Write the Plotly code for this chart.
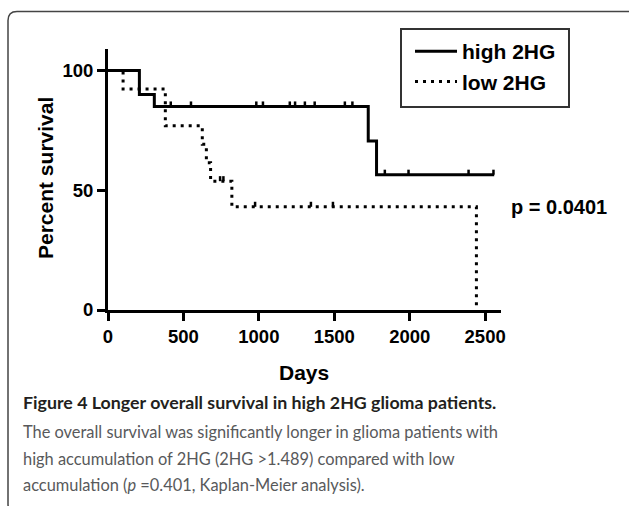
import plotly.graph_objects as go

# ---------------- data ----------------
high_days = [0, 208, 307, 1725, 1780, 2560]
high_pct = [100, 90, 85, 70.6, 56.5, 56.5]
high_cens_days = [416, 550, 983, 1027, 1205, 1240, 1305, 1370, 1570, 1620,
                  1835, 1992, 2390, 2555]
high_cens_pct = [85, 85, 85, 85, 85, 85, 85, 85, 85, 85,
                 56.5, 56.5, 56.5, 56.5]

low_days = [0, 100, 380, 625, 652, 680, 821, 2442]
low_pct = [100, 92.3, 76.9, 69.2, 61.5, 53.8, 43.1, 0]
low_cens_days = [743, 765, 975, 1345, 1491]
low_cens_pct = [53.8, 53.8, 43.1, 43.1, 43.1]

x_ticks = [0, 500, 1000, 1500, 2000, 2500]
y_ticks = [0, 50, 100]

series_names = ["high 2HG", "low 2HG"]
p_text = "p = 0.0401"
caption_title = "Figure 4 Longer overall survival in high 2HG glioma patients."
caption_lines = [
    "The overall survival was significantly longer in glioma patients with",
    "high accumulation of 2HG (2HG >1.489) compared with low",
    "accumulation (<i>p</i> =0.401, Kaplan-Meier analysis).",
]

# ---------------- geometry ----------------
W, H = 629, 506
L, R, T, B = 108, 128, 49, 196
PW, PH = W - L - R, H - T - B
BASE = H - B


def px(x):
    return (x - L) / PW


def py(y):
    return (BASE - y) / PH


ARIAL = "Liberation Sans, Arial, sans-serif"
CAP = "Lato, sans-serif"
TICK = 2.1  # censor tick length in % units

fig = go.Figure()

fig.add_trace(go.Scatter(
    x=high_days, y=high_pct, name=series_names[0], mode="lines",
    line=dict(color="black", width=3, shape="hv"),
))
fig.add_trace(go.Scatter(
    x=low_days, y=low_pct, name=series_names[1], mode="lines",
    line=dict(color="black", width=3, shape="hv", dash="3px,5px"),
))
for cx, cy in ((high_cens_days, high_cens_pct), (low_cens_days, low_cens_pct)):
    fig.add_trace(go.Scatter(
        x=cx, y=cy, mode="markers", showlegend=False, hoverinfo="skip",
        marker=dict(size=1, color="rgba(0,0,0,0)"),
        error_y=dict(type="data", symmetric=False, array=[TICK] * len(cx),
                     arrayminus=[0] * len(cx), width=0, thickness=2.5,
                     color="black"),
    ))

# rounded outer frame
fl, ft, fr, fb, rr = 8, 11.5, 637, 513, 9
path = (
    f"M {px(fl + rr)} {py(ft)} L {px(fr - rr)} {py(ft)} "
    f"Q {px(fr)} {py(ft)} {px(fr)} {py(ft + rr)} L {px(fr)} {py(fb - rr)} "
    f"Q {px(fr)} {py(fb)} {px(fr - rr)} {py(fb)} L {px(fl + rr)} {py(fb)} "
    f"Q {px(fl)} {py(fb)} {px(fl)} {py(fb - rr)} L {px(fl)} {py(ft + rr)} "
    f"Q {px(fl)} {py(ft)} {px(fl + rr)} {py(ft)} Z"
)

annotations = [
    dict(text="Percent survival", x=px(45), y=py(178), textangle=-90,
         font=dict(family=ARIAL, size=21, color="black", weight="bold")),
    dict(text="Days", x=px(304), y=py(372),
         font=dict(family=ARIAL, size=21, color="black", weight="bold")),
    dict(text=p_text, x=px(509), y=py(207), xanchor="left",
         font=dict(family=ARIAL, size=20, color="black", weight="bold")),
    dict(text=caption_title, x=px(21), y=py(402), xanchor="left",
         font=dict(family=CAP, size=17.8, color="#231f20", weight="bold")),
]
for i, line in enumerate(caption_lines):
    annotations.append(dict(text=line, x=px(21), y=py([431, 458, 485][i]),
                            xanchor="left",
                            font=dict(family=CAP, size=16.4, color="#58595b")))
for a in annotations:
    a.update(xref="paper", yref="paper", showarrow=False)
    a.setdefault("xanchor", "center")
    a.setdefault("yanchor", "middle")

axis_common = dict(
    showline=True, linewidth=3, linecolor="black", ticks="outside",
    ticklen=8, tickwidth=3, tickcolor="black", showgrid=False, zeroline=False,
    tickfont=dict(family=ARIAL, size=18.5, color="black", weight="bold"),
    fixedrange=True,
)

fig.update_layout(
    width=W, height=H,
    margin=dict(l=L, r=R, t=T, b=B, autoexpand=False),
    paper_bgcolor="white", plot_bgcolor="white",
    xaxis=dict(range=[0, 2605], tickvals=x_ticks, **axis_common),
    yaxis=dict(range=[0, 109], tickvals=y_ticks, **axis_common),
    showlegend=True,
    legend=dict(x=px(410), y=py(31), xanchor="left", yanchor="top",
                borderwidth=0, bgcolor="rgba(0,0,0,0)",
                font=dict(family=ARIAL, size=21, color="black", weight="bold"),
                itemwidth=42, tracegroupgap=0),
    shapes=[
        dict(type="path", path=path, xref="paper", yref="paper",
             line=dict(color="#444", width=1.5), layer="below"),
        dict(type="rect", xref="paper", yref="paper",
             x0=px(401), x1=px(569), y0=py(107), y1=py(29),
             line=dict(color="#333", width=2), fillcolor="white",
             layer="below"),
    ],
    annotations=annotations,
)

fig.write_html("out.html", config={"displayModeBar": False},
               post_script="document.body.style.margin='0';")
